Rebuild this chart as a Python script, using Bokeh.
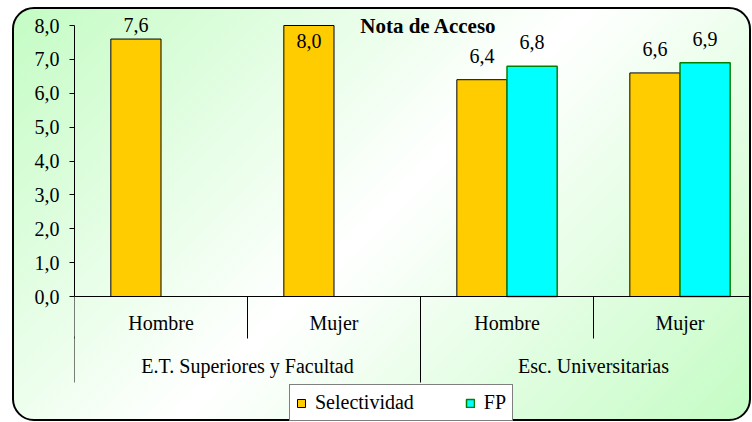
from bokeh.plotting import figure
from bokeh.models import (Range1d, LinearAxis, FixedTicker, LabelSet, Label,
                          ColumnDataSource, Legend, LegendItem)
from bokeh.embed import file_html
from bokeh.resources import INLINE

# ---- data ----
title_text = "Nota de Acceso"
groups = ["E.T. Superiores y Facultad", "Esc. Universitarias"]
subcats = ["Hombre", "Mujer", "Hombre", "Mujer"]
series_names = ["Selectividad", "FP"]
selectividad = [7.6, 8.0, 6.4, 6.6]
fp = [None, None, 6.8, 6.9]
y_ticks = [0, 1, 2, 3, 4, 5, 6, 7, 8]
y_tick_labels = ["0,0", "1,0", "2,0", "3,0", "4,0", "5,0", "6,0", "7,0", "8,0"]

def fmt(v):
    return f"{v:.1f}".replace(".", ",")

# ---- geometry (pixels) ----
W, H = 739, 414            # figure size; canvas is offset by the 2px css border
BORDER = 2
CW, CH = W, H
ML, MT = 60, 6
PX_PER_UNIT = 33.875
CAT_PX = 173.0
y_max = 8.0
top_px = 10                # headroom above 8,0
below_px = CH - MT - top_px - y_max * PX_PER_UNIT   # area below the x axis
y_start = -below_px / PX_PER_UNIT
y_end = y_max + top_px / PX_PER_UNIT
x_end = (CW - ML) / CAT_PX
bar_w = 0.29
FONT = "Liberation Serif"
FS = "20px"

p = figure(width=W, height=H, x_range=Range1d(0, x_end), y_range=Range1d(y_start, y_end),
           output_backend="svg", toolbar_location=None,
           x_axis_location=None, y_axis_location=None,
           min_border_left=ML, min_border_right=0, min_border_top=MT, min_border_bottom=0,
           background_fill_color=None, border_fill_color=None, outline_line_color=None)
p.grid.visible = False
p.styles = {
    "background": "linear-gradient(135deg, #c4fcc4 0%, #ffffff 50%, #c4fcc4 100%)",
    "border": f"{BORDER}px solid #000000",
    "border-radius": "22px",
    "margin-left": "12px",
    "margin-top": "7px",
}

# y axis
yax = LinearAxis(ticker=FixedTicker(ticks=y_ticks),
                 major_label_overrides=dict(zip(y_ticks, y_tick_labels)),
                 bounds=(0, y_max))
yax.axis_line_color = "#000000"
yax.major_tick_out = 5
yax.major_tick_in = 0
yax.minor_tick_line_color = None
yax.major_label_standoff = 10
yax.major_label_text_font = FONT
yax.major_label_text_font_size = FS
yax.major_label_text_color = "#000000"
p.add_layout(yax, "left")

# x axis: sub categories (separators drawn as minor ticks)
sub_ticks = [i + 0.5 for i in range(len(subcats))]
sub_seps = [float(i) for i in range(len(subcats))]
xax1 = LinearAxis(ticker=FixedTicker(ticks=sub_ticks, minor_ticks=sub_seps),
                  major_label_overrides=dict(zip(sub_ticks, subcats)),
                  fixed_location=0)
xax1.axis_line_color = "#000000"
xax1.major_tick_out = 0
xax1.major_tick_in = 0
xax1.major_tick_line_color = None
xax1.minor_tick_out = 0
xax1.minor_tick_in = -42
xax1.minor_tick_line_color = "#000000"
xax1.major_label_standoff = 15
xax1.major_label_text_font = FONT
xax1.major_label_text_font_size = FS
xax1.major_label_text_color = "#000000"
p.add_layout(xax1, "below")

# x axis: groups
n_per = len(subcats) // len(groups)
grp_ticks = [g * n_per + n_per / 2 for g in range(len(groups))]
grp_seps = [float(g * n_per) for g in range(len(groups))]
xax2 = LinearAxis(ticker=FixedTicker(ticks=grp_ticks, minor_ticks=grp_seps),
                  major_label_overrides=dict(zip(grp_ticks, groups)),
                  fixed_location=-40 / PX_PER_UNIT)
xax2.axis_line_color = None
xax2.major_tick_out = 0
xax2.major_tick_in = 0
xax2.major_tick_line_color = None
xax2.minor_tick_out = 0
xax2.minor_tick_in = -46
xax2.minor_tick_line_color = "#000000"
xax2.major_label_standoff = 18
xax2.major_label_text_font = FONT
xax2.major_label_text_font_size = FS
xax2.major_label_text_color = "#000000"
p.add_layout(xax2, "below")

# bars
sel_x = [i + 0.5 - bar_w / 2 for i in range(len(subcats))]
fp_idx = [i for i, v in enumerate(fp) if v is not None]
fp_x = [i + 0.5 + bar_w / 2 for i in fp_idx]
fp_v = [fp[i] for i in fp_idx]

src_sel = ColumnDataSource(dict(x=sel_x, top=selectividad))
src_fp = ColumnDataSource(dict(x=fp_x, top=fp_v))
r_sel = p.vbar(x="x", top="top", bottom=0, width=bar_w, source=src_sel,
               fill_color="#FFCC00", line_color="#000000", line_width=1)
r_fp = p.vbar(x="x", top="top", bottom=0, width=bar_w, source=src_fp,
              fill_color="#00FFFF", line_color="#008000", line_width=1.5)

# value labels (outside end; pulled down / moved inside when there is no room)
pad = 17 / PX_PER_UNIT
lab_limit = y_max - 6 / PX_PER_UNIT
def label_y(v):
    if v + pad <= lab_limit:
        return v + pad
    if v <= y_max - 0.3:
        return lab_limit
    return v - 0.65

lab_x = sel_x + fp_x
lab_v = selectividad + fp_v
lab_src = ColumnDataSource(dict(x=lab_x, y=[label_y(v) for v in lab_v],
                                text=[fmt(v) for v in lab_v]))
p.add_layout(LabelSet(x="x", y="y", text="text", source=lab_src,
                      text_align="center", text_baseline="alphabetic",
                      text_font=FONT, text_font_size=FS, text_color="#000000"))

# title
p.add_layout(Label(x=(428 - 74) / CAT_PX, y=y_max,
                   text=title_text, text_align="center", text_baseline="middle",
                   text_font=FONT, text_font_size="21px", text_font_style="bold",
                   text_color="#000000"))

# legend (inside the frame, below the category axes)
legend = Legend(items=[LegendItem(label=series_names[0], renderers=[r_sel]),
                       LegendItem(label=series_names[1], renderers=[r_fp])],
                orientation="horizontal", location=(215, 2),
                padding=6, spacing=51, label_standoff=9,
                glyph_width=10, glyph_height=10, label_height=20,
                label_text_font=FONT, label_text_font_size=FS,
                label_text_color="#000000",
                border_line_color="#000000", border_line_width=1,
                background_fill_color="#ffffff", background_fill_alpha=1.0,
                margin=0)
p.add_layout(legend, "center")

open("out.html", "w").write(file_html(p, INLINE))
